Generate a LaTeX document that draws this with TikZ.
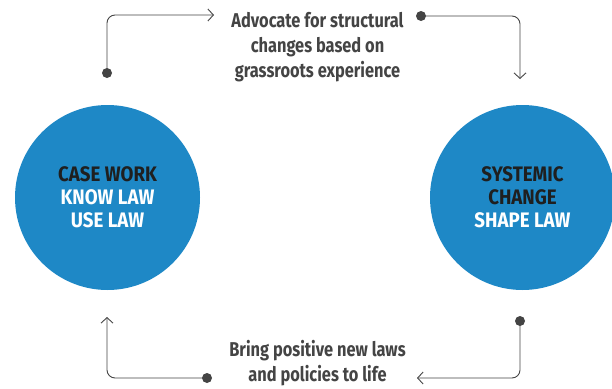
\documentclass[tikz,border=0pt]{standalone}
\usepackage{fontspec}
\setmainfont{Fira Sans}[FakeStretch=0.82]
\newfontfamily\bubblefont{Fira Sans}[FakeStretch=0.89]
\usepackage{tikz}
\usetikzlibrary{arrows.meta,positioning}
\usepackage{xcolor}
\definecolor{bubbleblue}{HTML}{1E88C6}
\definecolor{ink}{HTML}{444444}
\definecolor{dark}{HTML}{1F1F1F}

\tikzset{
    bubble/.style={circle, fill=bubbleblue, minimum size=185pt, inner sep=0pt,
        text=white, align=center, font=\bubblefont\bfseries\fontsize{21}{23}\selectfont},
    caption/.style={align=center, text=ink, font=\bfseries\fontsize{20}{25}\selectfont},
    conn/.style={draw=ink, line width=0.9pt, rounded corners=8pt,
        -{Straight Barb[length=5.5pt,width=12pt]}},
    dot/.style={circle, fill=ink, minimum size=10pt, inner sep=0pt}
}

\begin{document}
\begin{tikzpicture}[x=1pt, y=-1pt]
        \useasboundingbox (0,0) rectangle (612,388);
        % Draw the two circles
        \node[bubble] (casework) at (107.5,197.5) {\textcolor{dark}{CASE WORK}\\KNOW LAW\\USE LAW};
        \node[bubble] (systemic) at (522.5,197.5) {\textcolor{dark}{SYSTEMIC}\\\textcolor{dark}{CHANGE}\\SHAPE LAW};
        % Draw the labels
        \node[caption] (advocate) at (317.5,47) {Advocate for structural\\changes based on\\grassroots experience};
        \node[caption] (bring) at (317.5,363) {Bring positive new laws\\and policies to life};
        % Draw the dots and arrow ends
        \node[dot] (topdot) at (107,73) {};
        \coordinate (toptip) at (214,15);
        \node[dot] (rightdot) at (421,16) {};
        \coordinate (righttip) at (520,79);
        \node[dot] (lowdot) at (520,321) {};
        \coordinate (lowtip) at (417,378);
        \node[dot] (leftdot) at (207,378) {};
        \coordinate (lefttip) at (107,317);
        % Draw the connectors
        \draw[conn] (topdot.center) |- (toptip);
        \draw[conn] (rightdot.center) -| (righttip);
        \draw[conn] (lowdot.center) |- (lowtip);
        \draw[conn] (leftdot.center) -| (lefttip);
\end{tikzpicture}
\end{document}
